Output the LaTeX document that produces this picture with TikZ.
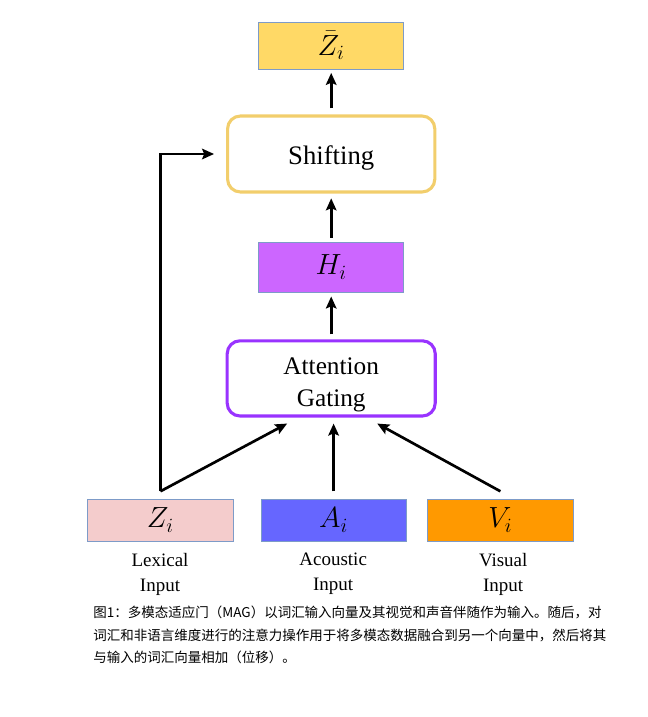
\documentclass[tikz,border=0pt]{standalone}
\usepackage{fontspec}
\setmainfont{Liberation Serif}
\newfontfamily\cjk{Noto Sans CJK SC}
\usetikzlibrary{positioning,arrows.meta}
\definecolor{zbarfill}{RGB}{255,217,102}
\definecolor{boxline}{RGB}{125,155,200}
\definecolor{shiftline}{RGB}{242,206,108}
\definecolor{hfill}{RGB}{204,102,255}
\definecolor{attline}{RGB}{153,51,255}
\definecolor{zfill}{RGB}{244,204,204}
\definecolor{afill}{RGB}{102,102,255}
\definecolor{vfill}{RGB}{255,153,0}

\begin{document}
\begin{tikzpicture}[
  sig/.style={-{Stealth[length=8.5pt,width=7.5pt,inset=1.5pt]},line width=1.9pt},
  vec/.style={draw=boxline,line width=0.7pt,minimum width=3.63cm,font=\fontsize{21}{24}\selectfont},
  block/.style={rounded corners=0.32cm,line width=2.2pt,fill=white,minimum width=5.18cm,minimum height=1.9cm,align=center},
  lab/.style={font=\fontsize{13.5}{17.7}\selectfont,align=center}]
\useasboundingbox (0,0) rectangle (16.2,-17.925);
% output and blocks
\node[vec,fill=zbarfill,minimum height=1.18cm] (zbar) at (8.28,-1.14) {$\bar{Z}_i$};
\node[block,draw=shiftline,font=\fontsize{19}{22}\selectfont] (shift) at (8.28,-3.85)
  {\raisebox{-3pt}[\height][\depth]{Shifting}};
\node[vec,fill=hfill,minimum height=1.25cm] (h) at (8.28,-6.675) {$H_i$};
\node[block,draw=attline,minimum width=5.2cm,minimum height=1.88cm,font=\fontsize{18}{23}\selectfont]
  (att) at (8.28,-9.46) {\raisebox{-4pt}[\height][\depth]{\begin{tabular}{@{}c@{}}Attention\\Gating\end{tabular}}};
% inputs
\node[vec,fill=zfill,minimum height=1.05cm] (zi) at (4.01,-13.0) {$Z_i$};
\node[vec,fill=afill,minimum height=1.05cm] (ai) at (8.34,-13.0) {$A_i$};
\node[vec,fill=vfill,minimum height=1.05cm] (vi) at (12.51,-13.0) {$V_i$};
\node[lab] (lex) at (4.0,-14.35) {Lexical\\Input};
\node[lab] (aco) at (8.33,-14.35) {Acoustic\\Input};
\node[lab] (vis) at (12.58,-14.35) {Visual\\Input};
% connectors
\coordinate (ztop) at ([yshift=0.18cm]zi.north);
\coordinate (atop) at ([yshift=0.18cm]ai.north);
\draw[sig] ([yshift=0.15cm]shift.north) -- ([yshift=-0.08cm]zbar.south);
\draw[sig] ([yshift=0.1cm]h.north) -- ([yshift=-0.12cm]shift.south);
\draw[sig] ([yshift=0.12cm]att.north) -- ([yshift=-0.1cm]h.south);
\draw[sig] (ztop) -- ([xshift=-1.1cm,yshift=-0.15cm]att.south);
\draw[sig] (atop) -- ([yshift=-0.15cm]atop |- att.south);
\draw[sig] ([yshift=0.18cm]vi.north) -- ([xshift=1.15cm,yshift=-0.15cm]att.south);
\draw[sig] (ztop) -- (ztop |- shift.west) -- ([xshift=-0.3cm]shift.west);
% caption
\node[anchor=north west,align=left,inner sep=0pt,font=\cjk\fontsize{9.6}{16}\selectfont] (cap) at (2.33,-15.15)
  {图1：多模态适应门（MAG）以词汇输入向量及其视觉和声音伴随作为输入。随后，对\\
   词汇和非语言维度进行的注意力操作用于将多模态数据融合到另一个向量中，然后将其\\
   与输入的词汇向量相加（位移）。};
\end{tikzpicture}
\end{document}
